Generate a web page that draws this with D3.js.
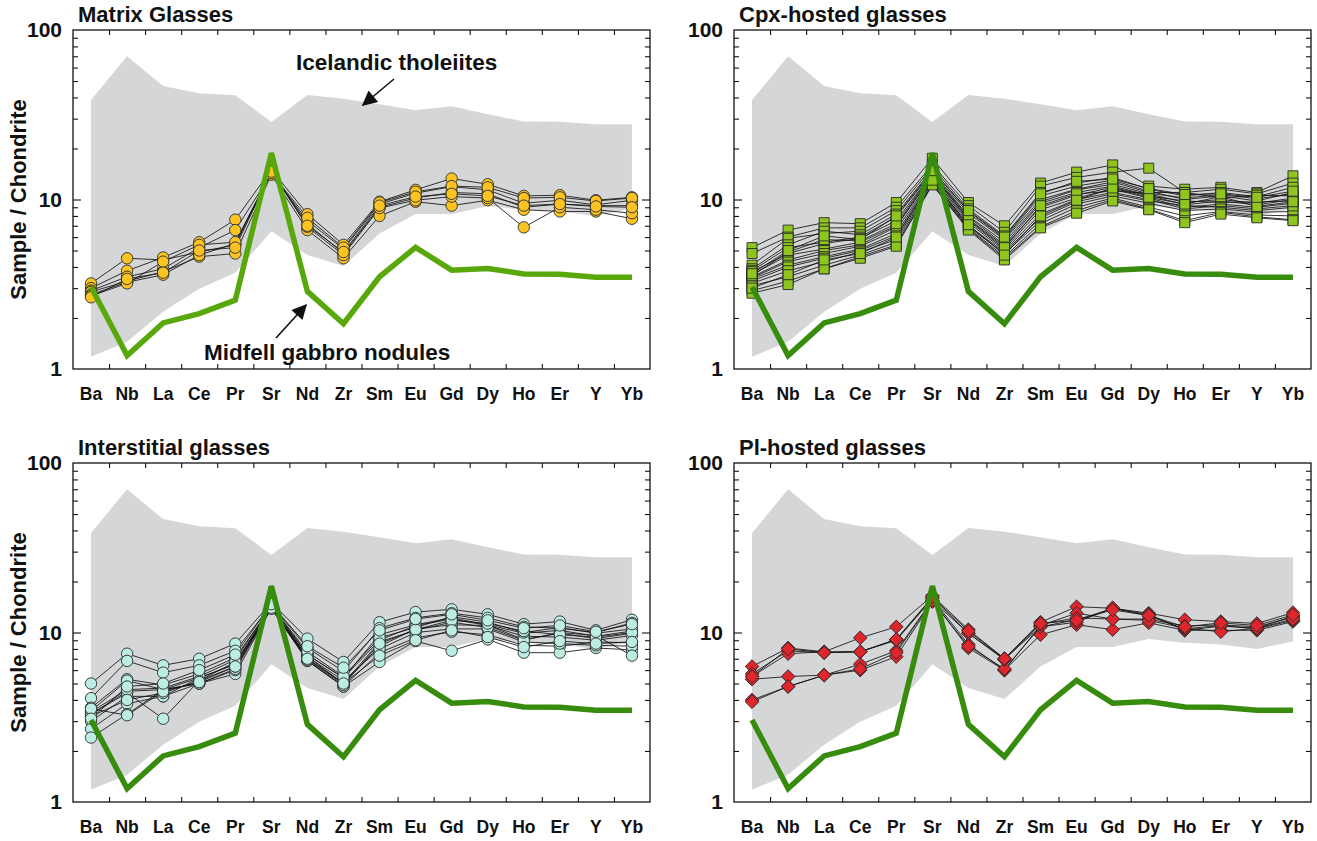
<!DOCTYPE html>
<html><head><meta charset="utf-8">
<script src="https://cdn.jsdelivr.net/npm/d3@7"></script>
<style>
body{margin:0;background:#fff;}
svg text{font-family:"Liberation Sans",Arial,Helvetica,sans-serif;font-weight:bold;fill:#111;}
</style></head><body>
<svg id="chart" width="1317" height="841"></svg>
<script>
// ---------------- DATA ----------------
const elements = ["Ba","Nb","La","Ce","Pr","Sr","Nd","Zr","Sm","Eu","Gd","Dy","Ho","Er","Y","Yb"];
const yTickLabels = [1, 10, 100];
const yMinorTicks = [2,3,4,5,6,7,8,9,20,30,40,50,60,70,80,90];
const panelTitles = ["Matrix Glasses","Cpx-hosted glasses","Interstitial glasses","Pl-hosted glasses"];

// Icelandic tholeiites field (upper / lower envelope)
const icelandUpper = [38.6, 70, 46.7, 42.4, 41.2, 28.7, 41.4, 39.3, 36.5, 33.6, 35.5, 31.8, 28.9, 28.8, 27.8, 27.8];
const icelandLower = [1.18, 1.45, 2.18, 2.97, 3.7, 6.5, 4.7, 4.05, 6.3, 8.22, 8.22, 9.15, 8.7, 8.5, 8.0, 8.85];

// Midfell gabbro nodules
const midfell = [3.05, 1.2, 1.87, 2.12, 2.55, 18.8, 2.87, 1.85, 3.5, 5.22, 3.83, 3.92, 3.64, 3.62, 3.48, 3.48];

// Matrix glasses
const matrixGlasses = [
  [3.2, 4.5, 4.4, 4.9, 5.4, 14.5, 7.2, 4.8, 9.0, 10.2, 11.0, 10.8, 9.0, 9.4, 9.2, 9.2],
  [3.0, 3.8, 4.55, 5.6, 7.6, 15.0, 8.2, 5.4, 9.7, 11.4, 13.3, 12.3, 10.5, 10.6, 9.9, 10.3],
  [2.9, 3.5, 3.9, 5.2, 6.6, 14.2, 7.5, 5.1, 9.4, 10.9, 11.9, 11.4, 9.5, 9.9, 9.3, 9.9],
  [2.85, 3.3, 3.75, 4.6, 4.8, 14.0, 6.6, 4.5, 8.0, 9.7, 9.2, 9.9, 8.7, 8.5, 8.5, 7.7],
  [2.75, 3.25, 3.6, 4.7, 5.5, 14.8, 6.9, 4.7, 8.9, 9.9, 10.4, 10.2, 6.85, 9.0, 8.7, 8.3],
  [2.7, 3.2, 4.3, 5.4, 5.6, 14.3, 7.8, 5.2, 9.6, 11.1, 12.0, 11.8, 10.2, 10.3, 9.8, 10.2],
  [2.65, 3.4, 3.7, 5.0, 5.2, 14.6, 7.0, 4.9, 9.2, 10.4, 10.8, 10.5, 9.2, 9.4, 9.1, 9.0]
];

// Cpx-hosted glasses
const cpxHosted = [
  [5.2, 6.6, 7.3, 7.2, 9.6, 17.5, 9.6, 7.0, 12.5, 14.5, 16.0, 12.0, 11.5, 11.8, 11.0, 13.8],
  [4.8, 6.0, 6.8, 6.8, 9.0, 16.0, 9.2, 6.4, 12.0, 13.5, 14.5, 15.3, 11.0, 11.5, 10.8, 12.5],
  [4.1, 5.9, 6.3, 6.5, 8.6, 15.5, 8.8, 6.1, 11.0, 12.5, 13.5, 11.5, 10.5, 11.0, 10.4, 11.8],
  [3.9, 5.4, 6.5, 6.2, 8.2, 15.0, 8.5, 5.9, 10.5, 12.0, 13.0, 11.2, 10.0, 10.5, 9.8, 11.0],
  [3.8, 5.2, 5.6, 6.0, 7.9, 14.5, 8.3, 5.8, 10.0, 11.5, 12.7, 11.0, 11.0, 10.2, 10.6, 10.5],
  [3.75, 4.8, 5.5, 5.9, 7.5, 14.3, 8.0, 5.6, 9.7, 11.4, 12.3, 10.8, 9.6, 10.0, 9.5, 10.2],
  [3.6, 4.7, 5.1, 5.6, 7.0, 14.0, 7.9, 5.4, 9.5, 11.0, 12.0, 10.6, 9.3, 9.8, 9.3, 10.0],
  [3.5, 4.4, 5.0, 5.4, 6.9, 13.8, 7.7, 5.3, 9.0, 10.6, 11.8, 10.5, 9.8, 9.6, 9.7, 9.8],
  [3.45, 4.3, 4.8, 5.3, 6.6, 13.5, 7.5, 5.1, 8.7, 10.2, 11.5, 10.2, 9.0, 9.4, 9.0, 9.5],
  [3.4, 4.1, 4.6, 5.1, 6.3, 13.3, 7.3, 5.0, 8.2, 10.0, 11.0, 10.0, 8.8, 9.2, 8.8, 9.2],
  [3.3, 4.0, 4.5, 5.0, 6.1, 13.0, 7.0, 4.9, 7.8, 9.7, 10.8, 9.8, 9.2, 9.0, 8.6, 9.0],
  [3.2, 3.8, 4.3, 4.9, 5.8, 12.8, 6.9, 4.8, 7.5, 9.4, 10.5, 9.5, 8.6, 8.8, 8.4, 8.5],
  [3.1, 3.5, 4.1, 4.7, 5.6, 12.5, 6.8, 4.6, 7.2, 9.0, 10.2, 9.0, 8.0, 8.5, 8.1, 8.0],
  [2.9, 3.3, 3.9, 4.6, 5.4, 12.3, 6.7, 4.5, 6.9, 8.6, 10.0, 8.8, 7.5, 8.4, 7.9, 7.6],
  [2.8, 3.15, 3.9, 4.5, 5.3, 12.2, 6.6, 4.4, 6.8, 8.3, 9.8, 8.7, 7.3, 8.2, 7.8, 7.5],
  [3.55, 4.9, 5.8, 5.7, 7.2, 14.2, 7.6, 5.2, 9.2, 10.8, 11.2, 10.9, 10.2, 10.7, 10.1, 10.8],
  [3.0, 3.6, 4.4, 4.8, 6.0, 13.0, 7.1, 4.7, 8.0, 9.9, 11.7, 10.3, 9.4, 10.4, 9.1, 9.7],
  [3.65, 5.0, 6.1, 5.8, 8.0, 14.8, 8.6, 6.0, 10.8, 12.8, 13.2, 11.6, 10.7, 10.8, 10.3, 11.2]
];

// Interstitial glasses
const interstitial = [
  [5.0, 7.5, 6.4, 7.0, 8.6, 15.0, 9.2, 6.7, 11.5, 13.2, 13.7, 12.8, 11.2, 11.6, 10.3, 11.9],
  [4.1, 6.8, 5.8, 6.4, 7.8, 14.5, 8.1, 5.9, 10.6, 12.2, 13.0, 12.2, 10.8, 10.6, 10.0, 11.4],
  [3.6, 5.3, 4.9, 5.7, 7.1, 14.2, 7.4, 5.4, 9.7, 11.1, 12.2, 11.1, 9.9, 10.3, 9.5, 10.2],
  [3.45, 5.2, 4.6, 5.4, 6.5, 14.0, 7.0, 5.0, 8.3, 10.5, 11.1, 11.0, 9.1, 9.9, 9.2, 9.9],
  [3.3, 4.5, 4.6, 5.0, 5.7, 13.9, 6.8, 4.8, 7.6, 9.3, 10.1, 9.7, 8.4, 8.3, 8.8, 8.7],
  [3.0, 4.2, 4.2, 5.0, 6.0, 14.0, 6.8, 4.8, 6.7, 8.9, 7.8, 9.1, 7.6, 7.6, 8.1, 7.9],
  [2.7, 3.8, 4.2, 5.4, 6.5, 14.5, 7.4, 5.4, 9.0, 11.0, 12.0, 11.0, 9.5, 9.4, 9.0, 9.6],
  [2.4, 3.3, 4.6, 5.0, 6.1, 14.1, 7.2, 5.2, 8.0, 10.0, 10.5, 10.5, 8.8, 8.6, 8.4, 8.3],
  [3.3, 4.4, 3.1, 5.2, 6.3, 14.0, 7.2, 5.0, 8.8, 10.3, 11.5, 10.7, 9.0, 10.0, 9.6, 7.3],
  [3.4, 4.6, 4.7, 5.5, 6.9, 14.3, 7.7, 5.5, 9.3, 10.7, 12.4, 11.5, 10.0, 10.7, 9.9, 10.5],
  [3.2, 4.0, 4.4, 5.2, 6.7, 13.8, 6.9, 4.9, 8.6, 10.4, 11.8, 11.3, 10.2, 9.7, 9.4, 10.0],
  [3.55, 3.25, 4.5, 5.1, 6.3, 14.0, 7.0, 5.0, 7.3, 9.0, 10.3, 9.4, 8.2, 8.9, 8.6, 8.8],
  [3.1, 4.8, 5.0, 6.0, 7.4, 14.7, 8.3, 6.2, 10.3, 12.0, 12.8, 11.8, 10.6, 11.0, 10.1, 11.2]
];

// Pl-hosted glasses
const plHosted = [
  [6.3, 8.1, 7.7, 9.3, 10.8, 16.5, 10.4, 7.0, 11.5, 14.2, 13.9, 13.0, 11.9, 11.6, 11.3, 13.1],
  [5.7, 7.8, 7.6, 7.7, 9.1, 16.0, 9.9, 7.0, 10.8, 11.9, 13.8, 12.8, 10.3, 10.9, 10.6, 12.5],
  [5.5, 7.5, 7.7, 7.7, 9.0, 15.8, 8.5, 6.0, 11.0, 13.0, 12.0, 12.0, 10.9, 11.1, 10.8, 12.3],
  [5.3, 5.5, 5.6, 6.5, 7.8, 15.5, 8.1, 6.0, 9.7, 11.1, 10.4, 11.4, 10.3, 10.3, 10.3, 11.6],
  [4.0, 4.8, 5.6, 6.0, 7.2, 15.2, 8.3, 6.1, 10.8, 11.5, 14.0, 12.5, 10.5, 11.0, 10.5, 11.8],
  [3.9, 4.8, 5.6, 6.1, 7.6, 15.4, 9.9, 6.9, 11.2, 12.2, 12.0, 11.8, 10.6, 10.1, 10.6, 12.0],
  [5.5, 8.0, 7.6, 7.7, 9.1, 16.2, 10.2, 7.0, 11.3, 11.8, 13.6, 12.6, 10.8, 11.4, 11.0, 12.7]
];

// ---------------- DRAW ----------------
const svg = d3.select("#chart");
const W = 577, H = 339;

const panels = [
  {left:73,  top:30,  title:panelTitles[0], data:matrixGlasses, marker:"circle",  fill:"#fcc422", green:"#58a80c", ylab:true},
  {left:734, top:30,  title:panelTitles[1], data:cpxHosted,     marker:"square",  fill:"#8ec51f", green:"#378c0d", ylab:false},
  {left:73,  top:463, title:panelTitles[2], data:interstitial,  marker:"circle",  fill:"#bcede2", green:"#378c0d", ylab:true},
  {left:734, top:463, title:panelTitles[3], data:plHosted,      marker:"diamond", fill:"#e0262d", green:"#378c0d", ylab:false}
];

const x = d3.scaleBand().domain(elements).range([0, W]);
const cx = e => x(e) + x.bandwidth()/2;
const xb = d3.scaleLinear().domain([0, elements.length]).range([0, W]);
const y = d3.scaleLog().domain([1, 100]).range([H, 0]);

const defs = svg.append("defs");
defs.append("marker").attr("id","arrow").attr("viewBox","0 0 10 10")
  .attr("refX",9).attr("refY",5).attr("markerWidth",19).attr("markerHeight",15)
  .attr("markerUnits","userSpaceOnUse").attr("orient","auto")
  .append("path").attr("d","M0,0 L10,5 L0,10 Z").attr("fill","#111");

panels.forEach((p, pi) => {
  const g = svg.append("g").attr("transform", `translate(${p.left},${p.top})`);

  // Icelandic field
  const area = d3.area()
    .x((d,i) => cx(elements[i]))
    .y0((d,i) => y(icelandLower[i]))
    .y1((d,i) => y(icelandUpper[i]));
  g.append("path").datum(icelandUpper).attr("d", area).attr("fill", "#d5d6d8");

  // sample lines
  const line = d3.line().x((d,i) => cx(elements[i])).y(d => y(d));
  g.selectAll(".samp").data(p.data).join("path")
    .attr("d", line).attr("fill","none").attr("stroke","#111").attr("stroke-width",0.85);

  // markers
  let sym;
  if (p.marker === "circle") sym = d3.symbol().type(d3.symbolCircle).size(Math.PI*5.7*5.7);
  else if (p.marker === "square") sym = d3.symbol().type(d3.symbolSquare).size(100);
  else sym = d3.symbol().type(d3.symbolSquare).size(92);
  const pts = [];
  p.data.forEach(s => s.forEach((v,i) => pts.push({e:elements[i], v})));
  g.selectAll(".pt").data(pts).join("path")
    .attr("d", sym)
    .attr("transform", d => `translate(${cx(d.e)},${y(d.v)})` + (p.marker==="diamond" ? " rotate(45)" : ""))
    .attr("fill", p.fill).attr("stroke", "#2a2a2a").attr("stroke-width", 0.9);

  // Midfell line
  g.append("path").datum(midfell).attr("d", line)
    .attr("fill","none").attr("stroke", p.green).attr("stroke-width", 5.5)
    .attr("stroke-linejoin","miter");

  // frame
  g.append("rect").attr("width", W).attr("height", H)
    .attr("fill","none").attr("stroke","#111").attr("stroke-width",1.3);

  // ticks: bottom / top at band boundaries
  const inner = d3.range(1, elements.length);
  g.append("g").attr("transform",`translate(0,${H})`)
    .call(d3.axisBottom(xb).tickValues(inner).tickSize(-5).tickFormat(""))
    .call(a => a.select(".domain").remove());
  g.append("g")
    .call(d3.axisTop(xb).tickValues(inner).tickSize(-5).tickFormat(""))
    .call(a => a.select(".domain").remove());
  // left / right ticks
  g.append("g").call(d3.axisLeft(y).tickValues(yMinorTicks).tickSize(-5).tickFormat(""))
    .call(a => a.select(".domain").remove());
  g.append("g").call(d3.axisLeft(y).tickValues([10]).tickSize(-8).tickFormat(""))
    .call(a => a.select(".domain").remove());
  g.append("g").attr("transform",`translate(${W},0)`)
    .call(d3.axisRight(y).tickValues(yMinorTicks).tickSize(-5).tickFormat(""))
    .call(a => a.select(".domain").remove());
  g.append("g").attr("transform",`translate(${W},0)`)
    .call(d3.axisRight(y).tickValues([10]).tickSize(-8).tickFormat(""))
    .call(a => a.select(".domain").remove());
  g.selectAll(".tick line").attr("stroke","#111").attr("stroke-width",1.1);

  // y tick labels
  const yl = g.append("g").call(d3.axisLeft(y).tickValues(yTickLabels).tickSize(0).tickPadding(11).tickFormat(d3.format("d")));
  yl.select(".domain").remove();
  yl.selectAll("text").style("font-size","21px").style("font-family","'Liberation Sans',Arial,sans-serif").style("font-weight","bold").attr("fill","#111");

  // x category labels
  const xl = g.append("g").attr("transform",`translate(0,${H})`)
    .call(d3.axisBottom(x).tickSize(0).tickPadding(19));
  xl.select(".domain").remove();
  xl.selectAll("text").style("font-size","17.5px").style("font-family","'Liberation Sans',Arial,sans-serif").style("font-weight","bold").attr("fill","#111");

  // title
  g.append("text").attr("x", 5).attr("y", -8).text(p.title).style("font-size","22px");

  // y title
  if (p.ylab) {
    g.append("text").attr("transform", `translate(-47,${H/2}) rotate(-90)`)
      .attr("text-anchor","middle").text("Sample / Chondrite").style("font-size","22px");
  }

  if (pi === 0) {
    g.append("text").attr("x", 223).attr("y", 40).text("Icelandic tholeiites").style("font-size","22.5px");
    g.append("line").attr("x1", 321).attr("y1", 49).attr("x2", 290).attr("y2", 75)
      .attr("stroke","#111").attr("stroke-width",1.6).attr("marker-end","url(#arrow)");
    g.append("text").attr("x", 131).attr("y", 330).text("Midfell gabbro nodules").style("font-size","22.5px");
    g.append("line").attr("x1", 203).attr("y1", 308).attr("x2", 233).attr("y2", 275)
      .attr("stroke","#111").attr("stroke-width",1.6).attr("marker-end","url(#arrow)");
  }
});
</script>
</body></html>
